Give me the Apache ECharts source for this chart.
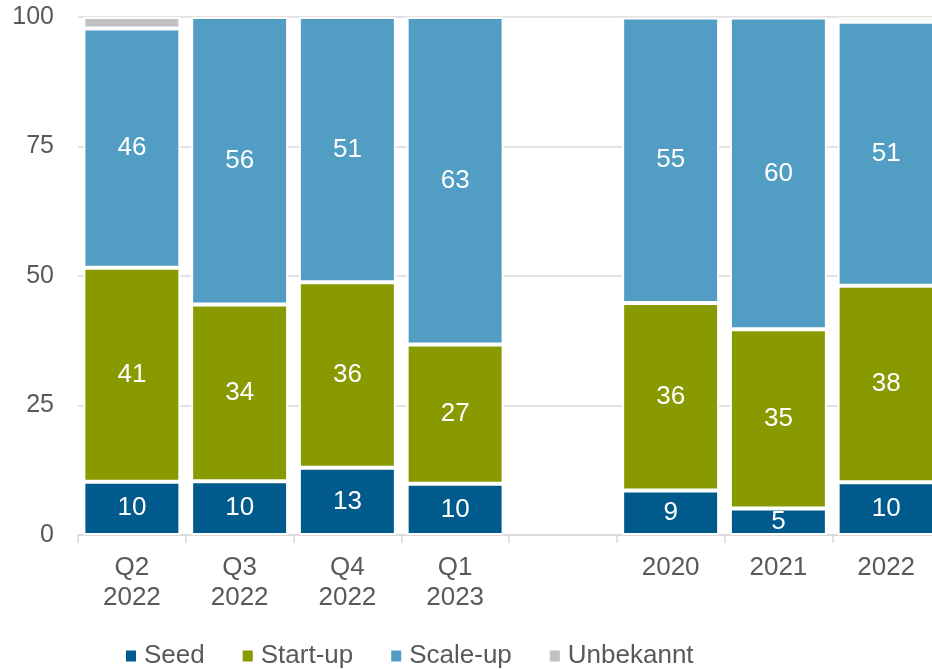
<!DOCTYPE html>
<html>
<head>
<meta charset="utf-8">
<script src="https://cdn.jsdelivr.net/npm/echarts@6/dist/echarts.min.js"></script>
<style>
html,body{margin:0;padding:0;background:#fff;overflow:hidden;width:932px;height:669px;}
#chart{width:940px;height:669px;}
</style>
</head>
<body>
<div id="chart"></div>
<script>
var categories = ['Q2\n2022', 'Q3\n2022', 'Q4\n2022', 'Q1\n2023', '', '2020', '2021', '2022'];
var seed      = [10.3, 10.4, 13.0, 9.9, null, 8.6, 5.1, 10.2];
var startUp   = [41.3, 34.1, 35.8, 26.9, null, 36.2, 34.6, 37.9];
var scaleUp   = [46.2, 55.5, 51.2, 63.2, null, 55.1, 60.2, 51.0];
var unbekannt = [2.2, null, null, null, null, null, null, 0.8];
var yTicks = [0, 25, 50, 75, 100];

var font = "'Liberation Sans', Arial, sans-serif";
var labelStyle = {
  show: true,
  position: 'inside',
  color: '#ffffff',
  fontSize: 26,
  fontFamily: font,
  formatter: function (p) { return p.value == null ? '' : Math.round(p.value); }
};
function mk(name, data, color, showLabel) {
  return {
    name: name,
    type: 'bar',
    stack: 'total',
    data: data,
    barCategoryGap: '10%',
    itemStyle: { color: color, borderColor: '#ffffff', borderWidth: 2 },
    label: showLabel ? labelStyle : { show: false },
    emphasis: { disabled: true }
  };
}

var chart = echarts.init(document.getElementById('chart'));
chart.setOption({
  animation: false,
  textStyle: { fontFamily: font },
  grid: { left: 78, right: 0, top: 17, bottom: 134, containLabel: false },
  legend: {
    data: ['Seed', 'Start-up', 'Scale-up', 'Unbekannt'],
    left: 126,
    top: 643,
    padding: 0,
    icon: 'rect',
    itemWidth: 10,
    itemHeight: 11,
    itemGap: 38,
    itemStyle: { borderWidth: 0 },
    textStyle: { fontSize: 26, color: '#595959', fontFamily: font, padding: [0, 0, 0, 3] }
  },
  xAxis: {
    type: 'category',
    data: categories,
    axisLine: { show: true, lineStyle: { color: '#d9d9d9', width: 1.5 } },
    axisTick: { show: true, length: 8, lineStyle: { color: '#d9d9d9', width: 1.5 } },
    axisLabel: { fontSize: 26, color: '#595959', lineHeight: 30, margin: 18, fontFamily: font, interval: 0 }
  },
  yAxis: {
    type: 'value',
    min: yTicks[0],
    max: yTicks[yTicks.length - 1],
    interval: 25,
    axisLine: { show: false },
    axisTick: { show: false },
    axisLabel: { fontSize: 25, color: '#595959', margin: 24, fontFamily: font },
    splitLine: { lineStyle: { color: '#d9d9d9', width: 1.5 } }
  },
  series: [
    mk('Seed', seed, '#005b8c', true),
    mk('Start-up', startUp, '#889a00', true),
    mk('Scale-up', scaleUp, '#519dc3', true),
    mk('Unbekannt', unbekannt, '#bfc1c3', false)
  ]
});
</script>
</body>
</html>
